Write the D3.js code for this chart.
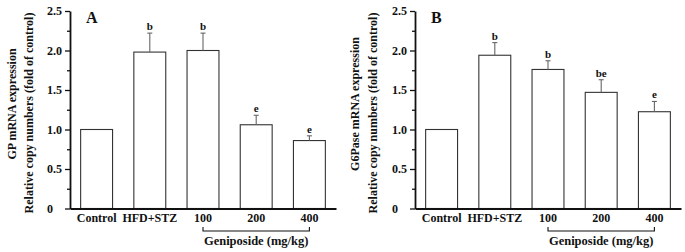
<!DOCTYPE html>
<html>
<head>
<meta charset="utf-8">
<script src="https://cdn.jsdelivr.net/npm/d3@7"></script>
<style>
  body { margin: 0; background: #fff; }
  svg text { font-family: "Liberation Serif", "Times New Roman", serif; font-weight: bold; fill: #111; }
</style>
</head>
<body>
<div id="chart"></div>
<script>
const categories = ["Control", "HFD+STZ", "100", "200", "400"];
const doseGroup = ["100", "400"];
const yTicks = [0, 0.5, 1.0, 1.5, 2.0, 2.5];
const yMinor = [0.25, 0.75, 1.25, 1.75, 2.25];

// panel A: GP
const gpMean = [1.00, 1.98, 2.00, 1.06, 0.86];
const gpSd = [0, 0.24, 0.22, 0.12, 0.06];
const gpSig = ["", "b", "b", "e", "e"];

// panel B: G6Pase
const g6Mean = [1.00, 1.94, 1.76, 1.47, 1.225];
const g6Sd = [0, 0.16, 0.11, 0.16, 0.13];
const g6Sig = ["", "b", "b", "be", "e"];

const W = 685, H = 252;
const svg = d3.select("#chart").append("svg")
    .attr("width", W).attr("height", H);

function drawPanel(opt) {
    const x = d3.scaleBand().domain(categories)
        .range([opt.x0, opt.x1]).paddingInner(0.4).paddingOuter(0.2);
    const y = d3.scaleLinear().domain([0, 2.5]).range([208.5, 11]);
    const g = svg.append("g");

    // bars
    g.selectAll(".bar").data(opt.mean).enter().append("rect")
        .attr("x", (d, i) => x(categories[i]))
        .attr("y", d => y(d))
        .attr("width", x.bandwidth())
        .attr("height", d => y(0) - y(d))
        .attr("fill", "#fff").attr("stroke", "#333").attr("stroke-width", 1.1);

    // error bars (upper only)
    opt.mean.forEach((m, i) => {
        if (!opt.sd[i]) return;
        const cx = x(categories[i]) + x.bandwidth() / 2;
        g.append("line").attr("x1", cx).attr("x2", cx)
            .attr("y1", y(m)).attr("y2", y(m + opt.sd[i]))
            .attr("stroke", "#666").attr("stroke-width", 1.1);
        g.append("line").attr("x1", cx - 2.5).attr("x2", cx + 2.5)
            .attr("y1", y(m + opt.sd[i])).attr("y2", y(m + opt.sd[i]))
            .attr("stroke", "#666").attr("stroke-width", 1.1);
        g.append("text").attr("x", cx).attr("y", y(m + opt.sd[i]) - 3)
            .attr("text-anchor", "middle").attr("font-size", "11px")
            .text(opt.sig[i]);
    });

    // y axis, minor ticks first
    g.append("g").attr("transform", `translate(${opt.x0},0)`)
        .call(d3.axisLeft(y).tickValues(yMinor).tickSize(3).tickFormat(""))
        .call(a => a.select(".domain").remove())
        .call(a => a.selectAll("line").attr("stroke", "#111").attr("stroke-width", 1.3));
    g.append("g").attr("transform", `translate(${opt.x0},0)`)
        .call(d3.axisLeft(y).tickValues(yTicks).tickSize(5).tickSizeOuter(0)
            .tickFormat(d => d === 0 ? "0" : d3.format(".1f")(d)))
        .call(a => a.select(".domain").attr("stroke", "#111").attr("stroke-width", 1.8))
        .call(a => a.selectAll("line").attr("stroke", "#111").attr("stroke-width", 1.3))
        .call(a => a.selectAll("text").attr("x", -23).attr("text-anchor", "start")
            .attr("font-size", "12px").attr("font-family", null).attr("fill", null));

    // x axis
    g.append("g").attr("transform", `translate(0,${y(0)})`)
        .call(d3.axisBottom(x).tickSize(0).tickPadding(5))
        .call(a => a.select(".domain").attr("stroke", "#111").attr("stroke-width", 1.8))
        .call(a => a.selectAll("text").attr("font-size", "12px")
            .attr("font-family", null).attr("fill", null));

    // dose bracket
    const bx0 = x(doseGroup[0]) + x.bandwidth() / 2;
    const bx1 = x(doseGroup[1]) + x.bandwidth() / 2;
    g.append("path")
        .attr("d", `M${bx0},227V231H${bx1}V227`)
        .attr("fill", "none").attr("stroke", "#111").attr("stroke-width", 1.1);
    g.append("text").attr("x", (bx0 + bx1) / 2).attr("y", 245)
        .attr("text-anchor", "middle").attr("font-size", "12.5px")
        .text("Geniposide (mg/kg)");

    // panel letter
    g.append("text").attr("x", opt.x0 + 16).attr("y", 23)
        .attr("font-size", "16px").text(opt.letter);

    // y labels
    g.append("text")
        .attr("transform", `translate(${opt.lab1x},104) rotate(-90)`)
        .attr("text-anchor", "middle").attr("font-size", "12px")
        .text(opt.ylab1);
    g.append("text")
        .attr("transform", `translate(${opt.lab2x},113) rotate(-90)`)
        .attr("text-anchor", "middle").attr("font-size", "12px")
        .text("Relative copy numbers (fold of control)");
}

drawPanel({ x0: 70, x1: 336, mean: gpMean, sd: gpSd, sig: gpSig, letter: "A",
    ylab1: "GP mRNA expression", lab1x: 16, lab2x: 33 });
drawPanel({ x0: 415, x1: 681, mean: g6Mean, sd: g6Sd, sig: g6Sig, letter: "B",
    ylab1: "G6Pase mRNA expression", lab1x: 359, lab2x: 377 });
</script>
</body>
</html>
